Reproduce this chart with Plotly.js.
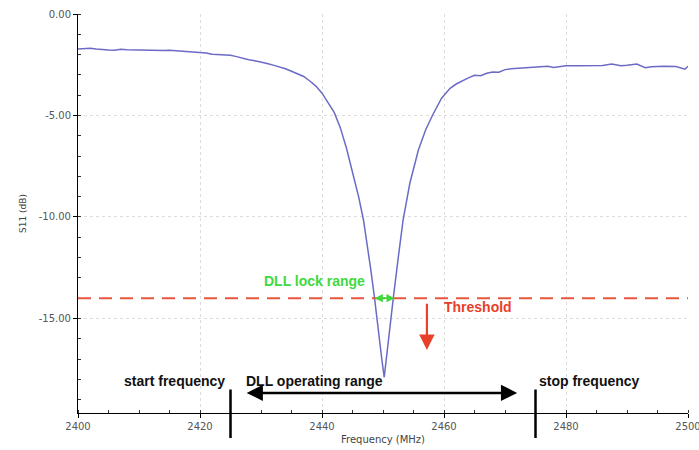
<!DOCTYPE html>
<html>
<head>
<meta charset="utf-8">
<script src="https://cdn.plot.ly/plotly-3.0.1.min.js"></script>
<style>html,body{margin:0;padding:0;background:#fff;}#chart{width:699px;height:450px;}</style>
</head>
<body>
<div id="chart"></div>
<script>
// S11 sweep (MHz, dB)
var freq = [2400,2401,2402,2403,2404,2405,2406,2407,2408,2409,2410,2411,2412,2413,2414,2415,2416,2417,2418,2419,
  2420,2421,2422,2423,2424,2425,2426,2427,2428,2429,2430,2431,2432,2433,2434,2435,2436,2437,2438,2439,
  2440,2441,2442,2443,2444,2445,2446,2446.8,2447.5,2448,2448.6,2449.2,2449.8,2450.2,
  2450.6,2451.2,2451.7,2452.5,2453.3,2454.4,2455,2455.8,2457,2458.1,2459.6,2461,2462,2463,2464,2465,
  2466,2467,2468,2469,2470,2471,2472,2473,2474,2475,2476,2477,2478,2479,2480,2482,2484,2486,2487.5,
  2489,2490,2491.6,2493,2494,2496,2498,2499.5,2500];
var s11 = [-1.72,-1.70,-1.69,-1.73,-1.76,-1.77,-1.78,-1.74,-1.76,-1.77,-1.78,-1.78,-1.79,-1.78,-1.80,-1.79,-1.81,-1.81,-1.83,-1.87,
  -1.88,-1.92,-1.98,-1.99,-2.00,-2.03,-2.10,-2.18,-2.25,-2.30,-2.36,-2.44,-2.52,-2.60,-2.70,-2.82,-2.95,-3.08,-3.30,-3.55,
  -3.90,-4.35,-4.85,-5.60,-6.60,-7.80,-9.00,-10.15,-11.50,-12.60,-13.96,-15.60,-17.00,-17.90,
  -16.80,-15.10,-13.96,-12.00,-10.15,-8.34,-7.60,-6.70,-5.70,-5.00,-4.15,-3.66,-3.45,-3.28,-3.15,-3.02,
  -3.04,-2.92,-2.86,-2.87,-2.74,-2.70,-2.68,-2.66,-2.64,-2.63,-2.60,-2.57,-2.63,-2.60,-2.55,-2.55,-2.56,-2.54,-2.47,
  -2.55,-2.53,-2.47,-2.65,-2.60,-2.58,-2.59,-2.72,-2.57];

var thresholdDb = -14;
var startFreq = 2425, stopFreq = 2475;
var operatingRange = [2427.4, 2472];
var operatingLevel = -18.67;
var lockRange = [2448.4, 2451.9];
var thresholdArrow = {x: 2457.2, from: -14.2, to: -16.55};
var labels = {
  lock: {text: 'DLL lock range', x: 2438.8, y: -13.15},
  threshold: {text: 'Threshold', x: 2459.6, y: -14.45},
  start: {text: 'start frequency', x: 2415.9, y: -18.1},
  operating: {text: 'DLL operating range', x: 2438.7, y: -18.1},
  stop: {text: 'stop frequency', x: 2483.9, y: -18.1}
};
var xTicks = [2400,2420,2440,2460,2480,2500];
var yTicks = [0,-5,-10,-15];
var yTickText = ['0.00','-5.00','-10.00','-15.00'];

var boldFont = {family: 'Liberation Sans, Arial, sans-serif', size: 14, color: '#111'};

var annotations = [
  {x: labels.lock.x, y: labels.lock.y, text: '<b>' + labels.lock.text + '</b>', showarrow: false,
   font: Object.assign({}, boldFont, {color: '#3fd93f'}), xanchor: 'center', yanchor: 'middle'},
  {x: labels.threshold.x, y: labels.threshold.y, text: '<b>' + labels.threshold.text + '</b>', showarrow: false,
   font: Object.assign({}, boldFont, {color: '#e8402a'}), xanchor: 'left', yanchor: 'middle'},
  {x: labels.start.x, y: labels.start.y, text: '<b>' + labels.start.text + '</b>', showarrow: false,
   font: boldFont, xanchor: 'center', yanchor: 'middle'},
  {x: labels.operating.x, y: labels.operating.y, text: '<b>' + labels.operating.text + '</b>', showarrow: false,
   font: boldFont, xanchor: 'center', yanchor: 'middle'},
  {x: labels.stop.x, y: labels.stop.y, text: '<b>' + labels.stop.text + '</b>', showarrow: false,
   font: boldFont, xanchor: 'center', yanchor: 'middle'},
  // lock range double arrow
  {x: lockRange[1], y: thresholdDb, ax: lockRange[0], ay: 0, axref: 'x', ayref: 'pixel', text: '',
   font: {size: 1}, showarrow: true, arrowhead: 2, startarrowhead: 2, arrowside: 'end+start',
   arrowsize: 0.9, startarrowsize: 0.9, arrowwidth: 1.8, arrowcolor: '#3fd93f', standoff: 0, startstandoff: 0},
  // operating range double arrow
  {x: operatingRange[1], y: operatingLevel, ax: operatingRange[0], ay: 0, axref: 'x', ayref: 'pixel', text: '',
   font: {size: 1}, showarrow: true, arrowhead: 2, startarrowhead: 2, arrowside: 'end+start',
   arrowsize: 1.3, startarrowsize: 1.3, arrowwidth: 2.5, arrowcolor: '#000', standoff: 0, startstandoff: 0},
  // threshold down arrow
  {x: thresholdArrow.x, y: thresholdArrow.to, ax: thresholdArrow.x, ay: thresholdArrow.from, axref: 'x', ayref: 'y', text: '',
   font: {size: 1}, showarrow: true, arrowhead: 2, arrowsize: 1.4, arrowwidth: 2.2, arrowcolor: '#e8402a', standoff: 0},
  // start / stop frequency markers
  {x: startFreq, y: -18.5, ax: 0, ay: 50, text: '', font: {size: 1}, showarrow: true, arrowhead: 0,
   arrowwidth: 2.5, arrowcolor: '#000', standoff: 0},
  {x: stopFreq, y: -18.5, ax: 0, ay: 50, text: '', font: {size: 1}, showarrow: true, arrowhead: 0,
   arrowwidth: 2.5, arrowcolor: '#000', standoff: 0}
];

var data = [{
  x: freq, y: s11, type: 'scatter', mode: 'lines',
  line: {color: '#6b6bc6', width: 1.5}, hoverinfo: 'skip'
}];

var axisFont = {family: 'DejaVu Sans, sans-serif', size: 10, color: '#555'};

var layout = {
  width: 699, height: 450,
  margin: {l: 78, r: 11, t: 14, b: 37},
  paper_bgcolor: '#fff', plot_bgcolor: '#fff',
  showlegend: false,
  xaxis: {
    range: [2400, 2500], tickvals: xTicks, ticktext: xTicks.map(String), ticklabeloverflow: 'allow',
    showgrid: true, gridcolor: '#dcdcdc', griddash: 'dot', gridwidth: 1,
    showline: true, linecolor: '#000', linewidth: 1, zeroline: false,
    ticks: 'outside', ticklen: 4, tickcolor: '#000',
    minor: {dtick: 5, ticks: 'inside', ticklen: 3, tickcolor: '#333', showgrid: false},
    tickfont: axisFont,
    title: {text: 'Frequency (MHz)', font: {family: 'DejaVu Sans, sans-serif', size: 10, color: '#444'}, standoff: 4}
  },
  yaxis: {
    range: [-19.66, 0], tickvals: yTicks, ticktext: yTickText,
    showgrid: true, gridcolor: '#dcdcdc', griddash: 'dot', gridwidth: 1,
    showline: true, linecolor: '#000', linewidth: 1, zeroline: false,
    ticks: 'outside', ticklen: 4, tickcolor: '#000',
    minor: {dtick: 1, ticks: 'inside', ticklen: 3, tickcolor: '#333', showgrid: false},
    tickfont: axisFont,
    title: {text: 'S11 (dB)', font: {family: 'DejaVu Sans, sans-serif', size: 9, color: '#444'}, standoff: 10}
  },
  shapes: [{
    type: 'line', xref: 'paper', x0: 0, x1: 1, yref: 'y', y0: thresholdDb, y1: thresholdDb,
    line: {color: '#e8573c', width: 2, dash: '13px,8px'}
  }],
  annotations: annotations
};

Plotly.newPlot('chart', data, layout, {displayModeBar: false, staticPlot: true});
</script>
</body>
</html>
